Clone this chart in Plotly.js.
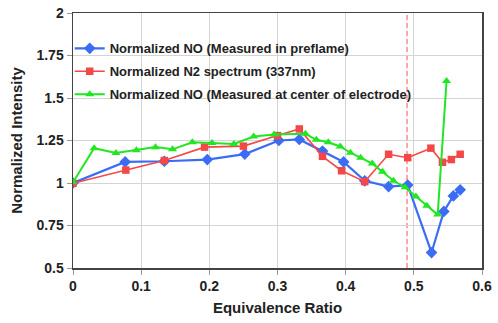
<!DOCTYPE html>
<html>
<head>
<meta charset="utf-8">
<script src="https://cdn.plot.ly/plotly-3.0.1.min.js"></script>
<style>
html,body{margin:0;padding:0;background:#fff;}
#chart{width:498px;height:323px;}
</style>
</head>
<body>
<div id="chart"></div>
<script>
const seriesNames = [
  "Normalized NO (Measured in preflame)",
  "Normalized N2 spectrum (337nm)",
  "Normalized NO (Measured at center of electrode)"
];

const blueX = [0, 0.0765, 0.134, 0.197, 0.252, 0.302, 0.332, 0.366, 0.397, 0.428, 0.463, 0.491, 0.526, 0.544, 0.558, 0.568];
const blueY = [1.0, 1.124, 1.128, 1.138, 1.17, 1.25, 1.256, 1.188, 1.124, 1.013, 0.979, 0.988, 0.591, 0.833, 0.924, 0.96];

const redX = [0, 0.0775, 0.134, 0.193, 0.25, 0.3, 0.332, 0.366, 0.394, 0.428, 0.463, 0.491, 0.525, 0.542, 0.555, 0.568];
const redY = [0.998, 1.076, 1.132, 1.211, 1.217, 1.279, 1.318, 1.157, 1.072, 1.008, 1.169, 1.149, 1.205, 1.122, 1.138, 1.169];

const greenX = [0, 0.031, 0.063, 0.093, 0.121, 0.146, 0.175, 0.204, 0.236, 0.265, 0.295, 0.341, 0.357, 0.3745, 0.392, 0.407, 0.422, 0.439, 0.454, 0.47, 0.487, 0.503, 0.519, 0.535, 0.548];
const greenY = [1.004, 1.205, 1.176, 1.192, 1.211, 1.198, 1.24, 1.236, 1.23, 1.273, 1.285, 1.289, 1.254, 1.24, 1.215, 1.178, 1.149, 1.114, 1.066, 1.013, 0.975, 0.92, 0.866, 0.814, 1.6];

const xTicks = [0, 0.1, 0.2, 0.3, 0.4, 0.5, 0.6];
const xTickLabels = ["0", "0.1", "0.2", "0.3", "0.4", "0.5", "0.6"];
const yTicks = [0.5, 0.75, 1, 1.25, 1.5, 1.75, 2];
const yTickLabels = ["0.5", "0.75", "1", "1.25", "1.5", "1.75", "2"];

const dashedLineX = 0.49;

const xTitle = "Equivalence Ratio";
const yTitle = "Normalized Intensity";

const font = "Arial, 'Liberation Sans', sans-serif";

const traces = [
  {
    x: blueX, y: blueY, name: seriesNames[0], legendgroup: "a",
    mode: "lines+markers", type: "scatter",
    line: {color: "#3a6cf4", width: 2.2},
    marker: {symbol: "diamond", size: 9, color: "#3a6cf4"}
  },
  {
    x: redX, y: redY, name: seriesNames[1], legendgroup: "b",
    mode: "lines+markers", type: "scatter",
    line: {color: "#f44848", width: 1.6},
    marker: {symbol: "square", size: 7.5, color: "#f44848"}
  },
  {
    x: greenX, y: greenY, name: seriesNames[2], legendgroup: "c",
    mode: "lines+markers", type: "scatter",
    line: {color: "#22e622", width: 2},
    marker: {symbol: "triangle-up", size: 8, color: "#22e622"}
  }
];

const layout = {
  width: 498, height: 323,
  margin: {l: 73, r: 16, t: 13, b: 55},
  paper_bgcolor: "#fff", plot_bgcolor: "#fff",
  font: {family: font, color: "#222"},
  showlegend: true,
  legend: {
    x: -0.008, y: 0.92, xanchor: "left", yanchor: "top",
    bgcolor: "rgba(0,0,0,0)", borderwidth: 0,
    font: {family: font, size: 13, color: "#222", weight: "bold"},
    tracegroupgap: 3,
    traceorder: "grouped"
  },
  xaxis: {
    range: [0, 0.6], tickvals: xTicks, ticktext: xTickLabels,
    showgrid: true, gridcolor: "#d4d4d4", gridwidth: 1,
    zeroline: false,
    showline: true, mirror: true, linecolor: "#444", linewidth: 1.5,
    ticks: "outside", ticklen: 5, tickcolor: "#999",
    tickfont: {family: font, size: 14, color: "#222", weight: "bold"},
    title: {text: xTitle, font: {family: font, size: 15, color: "#222", weight: "bold"}, standoff: 9}
  },
  yaxis: {
    range: [0.5, 2], tickvals: yTicks, ticktext: yTickLabels,
    showgrid: true, gridcolor: "#d4d4d4", gridwidth: 1,
    zeroline: false,
    showline: true, mirror: true, linecolor: "#444", linewidth: 1.5,
    ticks: "outside", ticklen: 5, tickcolor: "#999",
    tickfont: {family: font, size: 14, color: "#222", weight: "bold"},
    title: {text: yTitle, font: {family: font, size: 15, color: "#222", weight: "bold"}, standoff: 10}
  },
  shapes: [{
    type: "line", xref: "x", yref: "paper",
    x0: dashedLineX, x1: dashedLineX, y0: 0, y1: 1,
    line: {color: "#ff8a8a", width: 1.5, dash: "5px,3px"},
    layer: "below"
  }]
};

Plotly.newPlot("chart", traces, layout, {displayModeBar: false, staticPlot: true});
</script>
</body>
</html>
